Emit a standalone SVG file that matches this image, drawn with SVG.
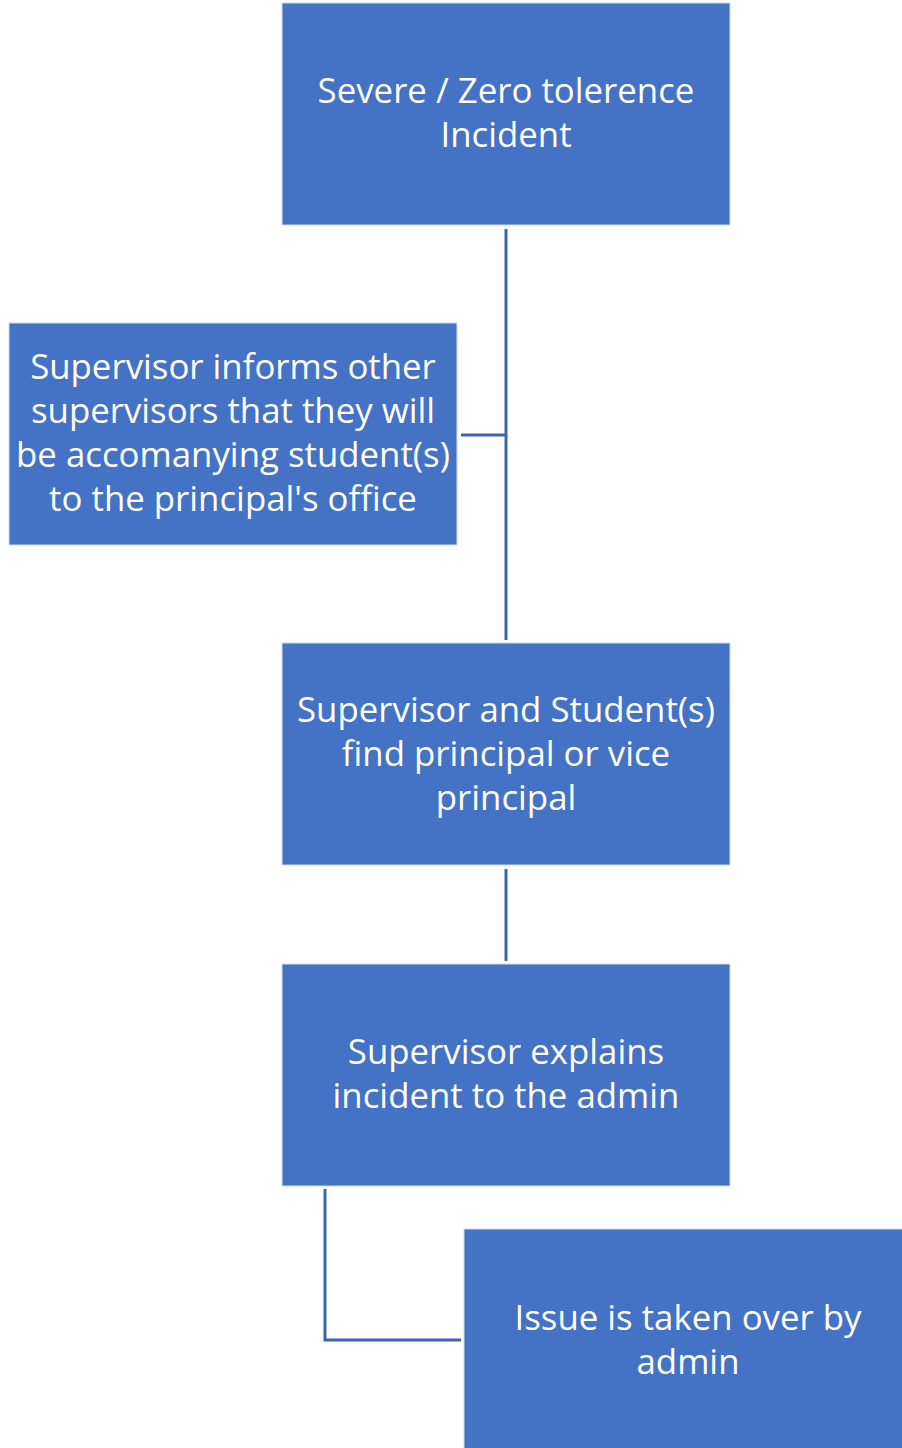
<svg xmlns="http://www.w3.org/2000/svg" width="902" height="1448" viewBox="0 0 902 1448">
<style>
.box{fill:#4472C4;stroke:#D0DAEE;stroke-width:1}
.t{font-family:"Open Sans","Liberation Sans",sans-serif;font-size:34.8px;fill:#FFFFFF;text-anchor:middle}
.c{fill:none;stroke:#3D62AE;stroke-width:3}
</style>
<rect width="902" height="1448" fill="#FFFFFF"/>
<g id="connectors">
<line class="c" x1="506" y1="229" x2="506" y2="640"/>
<line class="c" x1="461" y1="435" x2="506" y2="435"/>
<line class="c" x1="506" y1="869" x2="506" y2="961"/>
<polyline class="c" points="325,1189 325,1340 461,1340"/>
</g>
<g id="n1">
<rect class="box" x="282" y="3" width="448" height="222"/>
<text class="t" x="506" y="103">Severe / Zero tolerence</text>
<text class="t" x="506" y="147">Incident</text>
</g>
<g id="n2">
<rect class="box" x="9" y="323" width="448" height="222"/>
<text class="t" x="233" y="379">Supervisor informs other</text>
<text class="t" x="233" y="423">supervisors that they will</text>
<text class="t" x="233" y="467">be accomanying student(s)</text>
<text class="t" x="233" y="511">to the principal's office</text>
</g>
<g id="n3">
<rect class="box" x="282" y="643" width="448" height="222"/>
<text class="t" x="506" y="722">Supervisor and Student(s)</text>
<text class="t" x="506" y="766">find principal or vice</text>
<text class="t" x="506" y="810">principal</text>
</g>
<g id="n4">
<rect class="box" x="282" y="964" width="448" height="222"/>
<text class="t" x="506" y="1064">Supervisor explains</text>
<text class="t" x="506" y="1108">incident to the admin</text>
</g>
<g id="n5">
<rect class="box" x="464" y="1229" width="440" height="222"/>
<text class="t" x="688" y="1330">Issue is taken over by</text>
<text class="t" x="688" y="1374">admin</text>
</g>
</svg>
